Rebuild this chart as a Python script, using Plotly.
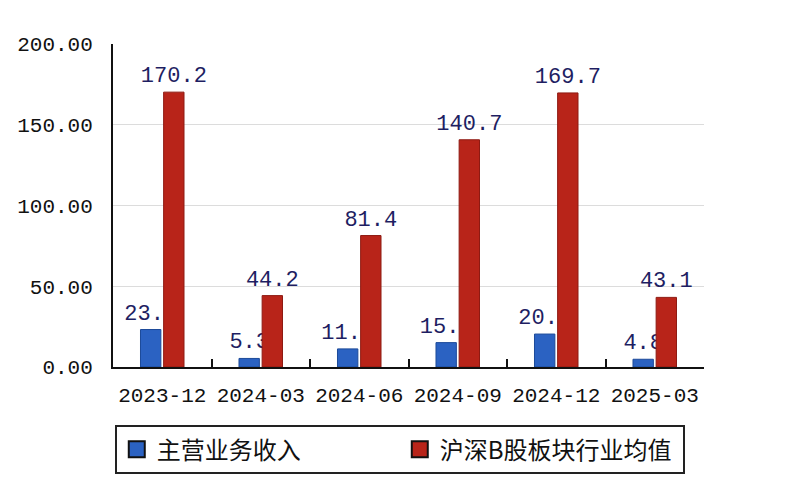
import plotly.graph_objects as go

# ── 数据 ──────────────────────────────────────────────────────────────
periods = ["2023-12", "2024-03", "2024-06", "2024-09", "2024-12", "2025-03"]
revenue = [23.2, 5.3, 11.2, 15.1, 20.4, 4.8]               # 主营业务收入
industry_avg = [170.2, 44.2, 81.4, 140.7, 169.7, 43.1]     # 沪深B股板块行业均值

names = ["主营业务收入", "沪深B股板块行业均值"]
colors = ["#2b62c2", "#b82419"]
edges = ["#1c4a99", "#8e1a12"]

mono = "Liberation Mono, DejaVu Sans Mono, monospace"
cjk = "Noto Sans CJK SC, sans-serif"

fig = go.Figure()

for vals, name, color, edge in zip([revenue, industry_avg], names, colors, edges):
    fig.add_trace(go.Bar(
        x=periods,
        y=vals,
        name=name,
        showlegend=False,
        marker=dict(color=color, line=dict(color=edge, width=1)),
        texttemplate="%{y:.1f}",
        textposition="outside",
        constraintext="none",
        cliponaxis=False,
        textfont=dict(family=mono, size=22, color="#1e1e62"),
    ))

# 图例用的方块（大一点）
for name, color in zip(names, colors):
    fig.add_trace(go.Scatter(
        x=[None], y=[None],
        mode="markers",
        name=name,
        marker=dict(symbol="square", size=16, color=color,
                    line=dict(color="#111111", width=2)),
    ))

# 页面 body 有 8px 默认边距，这里把边距往回收一点
fig.update_layout(
    width=800, height=500,
    margin=dict(l=105, r=104, t=36, b=141),
    paper_bgcolor="white",
    plot_bgcolor="white",
    barmode="group",
    bargap=0.53,
    bargroupgap=0.12,
    font=dict(family=mono, color="#111111"),
    xaxis=dict(
        type="category",
        tickangle=0,
        tickson="boundaries",
        ticks="inside",
        ticklen=8,
        tickwidth=2,
        tickcolor="#111111",
        showline=True,
        linecolor="#111111",
        linewidth=2,
        showgrid=False,
        ticklabelstandoff=8,
        tickfont=dict(family=mono, size=21, color="#111111"),
    ),
    yaxis=dict(
        range=[0, 200],
        dtick=50,
        tickformat=".2f",
        showline=True,
        linecolor="#111111",
        linewidth=2,
        gridcolor="#dcdcdc",
        gridwidth=1,
        zeroline=False,
        ticks="",
        automargin=False,
        ticklabelstandoff=14,
        tickfont=dict(family=mono, size=21, color="#111111"),
    ),
    legend=dict(
        orientation="h",
        x=0.003, xanchor="left",
        y=-0.18, yanchor="top",
        bordercolor="#222222",
        borderwidth=2,
        entrywidth=238,
        font=dict(family=cjk, size=24, color="#111111"),
        itemsizing="trace",
    ),
)

fig.write_html("out.html")
